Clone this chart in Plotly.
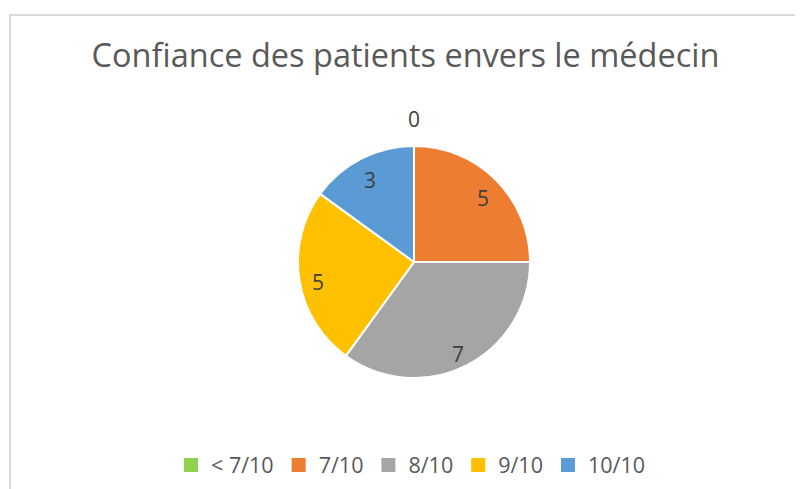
import plotly.graph_objects as go
import numpy as np

categories = ["< 7/10", "7/10", "8/10", "9/10", "10/10"]
values = [0, 5, 7, 5, 3]
colors = ["#92D050", "#ED7D31", "#A5A5A5", "#FFC000", "#5B9BD5"]
title_text = "Confiance des patients envers le médecin"

# page body has an 8px margin; figure is sized to fill the rest of the window
OX, OY = 8, 8
W, H = 803 - OX, 489 - OY
cx, cy, R = 414 - OX, 262 - OY, 116
dom_x = [(cx - R) / W, (cx + R) / W]
dom_y = [1 - (cy + R) / H, 1 - (cy - R) / H]

fig = go.Figure()
fig.add_trace(go.Pie(
    labels=categories, values=values, sort=False, direction="clockwise", rotation=0,
    marker=dict(colors=colors, line=dict(color="white", width=2)),
    textinfo="none", hoverinfo="label+value", domain=dict(x=dom_x, y=dom_y),
    showlegend=False,
))

# legend entries with Excel-like square swatches
for lab, col in zip(categories, colors):
    fig.add_trace(go.Scatter(
        x=[None], y=[None], mode="markers", name=lab,
        marker=dict(symbol="square", size=14, color=col),
        showlegend=True, hoverinfo="skip",
    ))

# data labels on slice bisectors (Excel "best fit" style)
total = sum(values)
cum = np.cumsum([0] + values)
annotations = []
for i, v in enumerate(values):
    ang = np.radians((cum[i] + v / 2) / total * 360)
    d = R * (1.23 if v == 0 else 0.84)
    annotations.append(dict(
        x=(cx + d * np.sin(ang)) / W, y=1 - (cy - d * np.cos(ang)) / H,
        xref="paper", yref="paper", text=str(v), showarrow=False,
        xanchor="center", yanchor="middle", yshift=0 if v == 0 else -5,
        font=dict(family="Open Sans", size=21, color="#404040"),
    ))

fig.update_layout(
    width=W, height=H, margin=dict(l=0, r=0, t=0, b=0),
    paper_bgcolor="white", plot_bgcolor="white",
    xaxis=dict(visible=False), yaxis=dict(visible=False),
    annotations=annotations,
    title=dict(text=title_text, x=(405.5 - OX) / W, xanchor="center", y=1 - (56 - OY) / H, yanchor="middle",
               font=dict(family="Open Sans", size=32.5, color="#595959")),
    legend=dict(orientation="h", x=(411 - OX) / W, xanchor="center", y=1 - (465 - OY) / H, yanchor="middle",
                font=dict(family="Open Sans", size=21.5, color="#595959"), traceorder="normal"),
    shapes=[dict(type="rect", xref="paper", yref="paper", x0=(10 - OX) / W, x1=1.05, y0=-0.05,
                 y1=1 - (15 - OY) / H,
                 line=dict(color="#D9D9D9", width=2), fillcolor="rgba(0,0,0,0)", layer="below")],
)

fig.write_html("out.html")
